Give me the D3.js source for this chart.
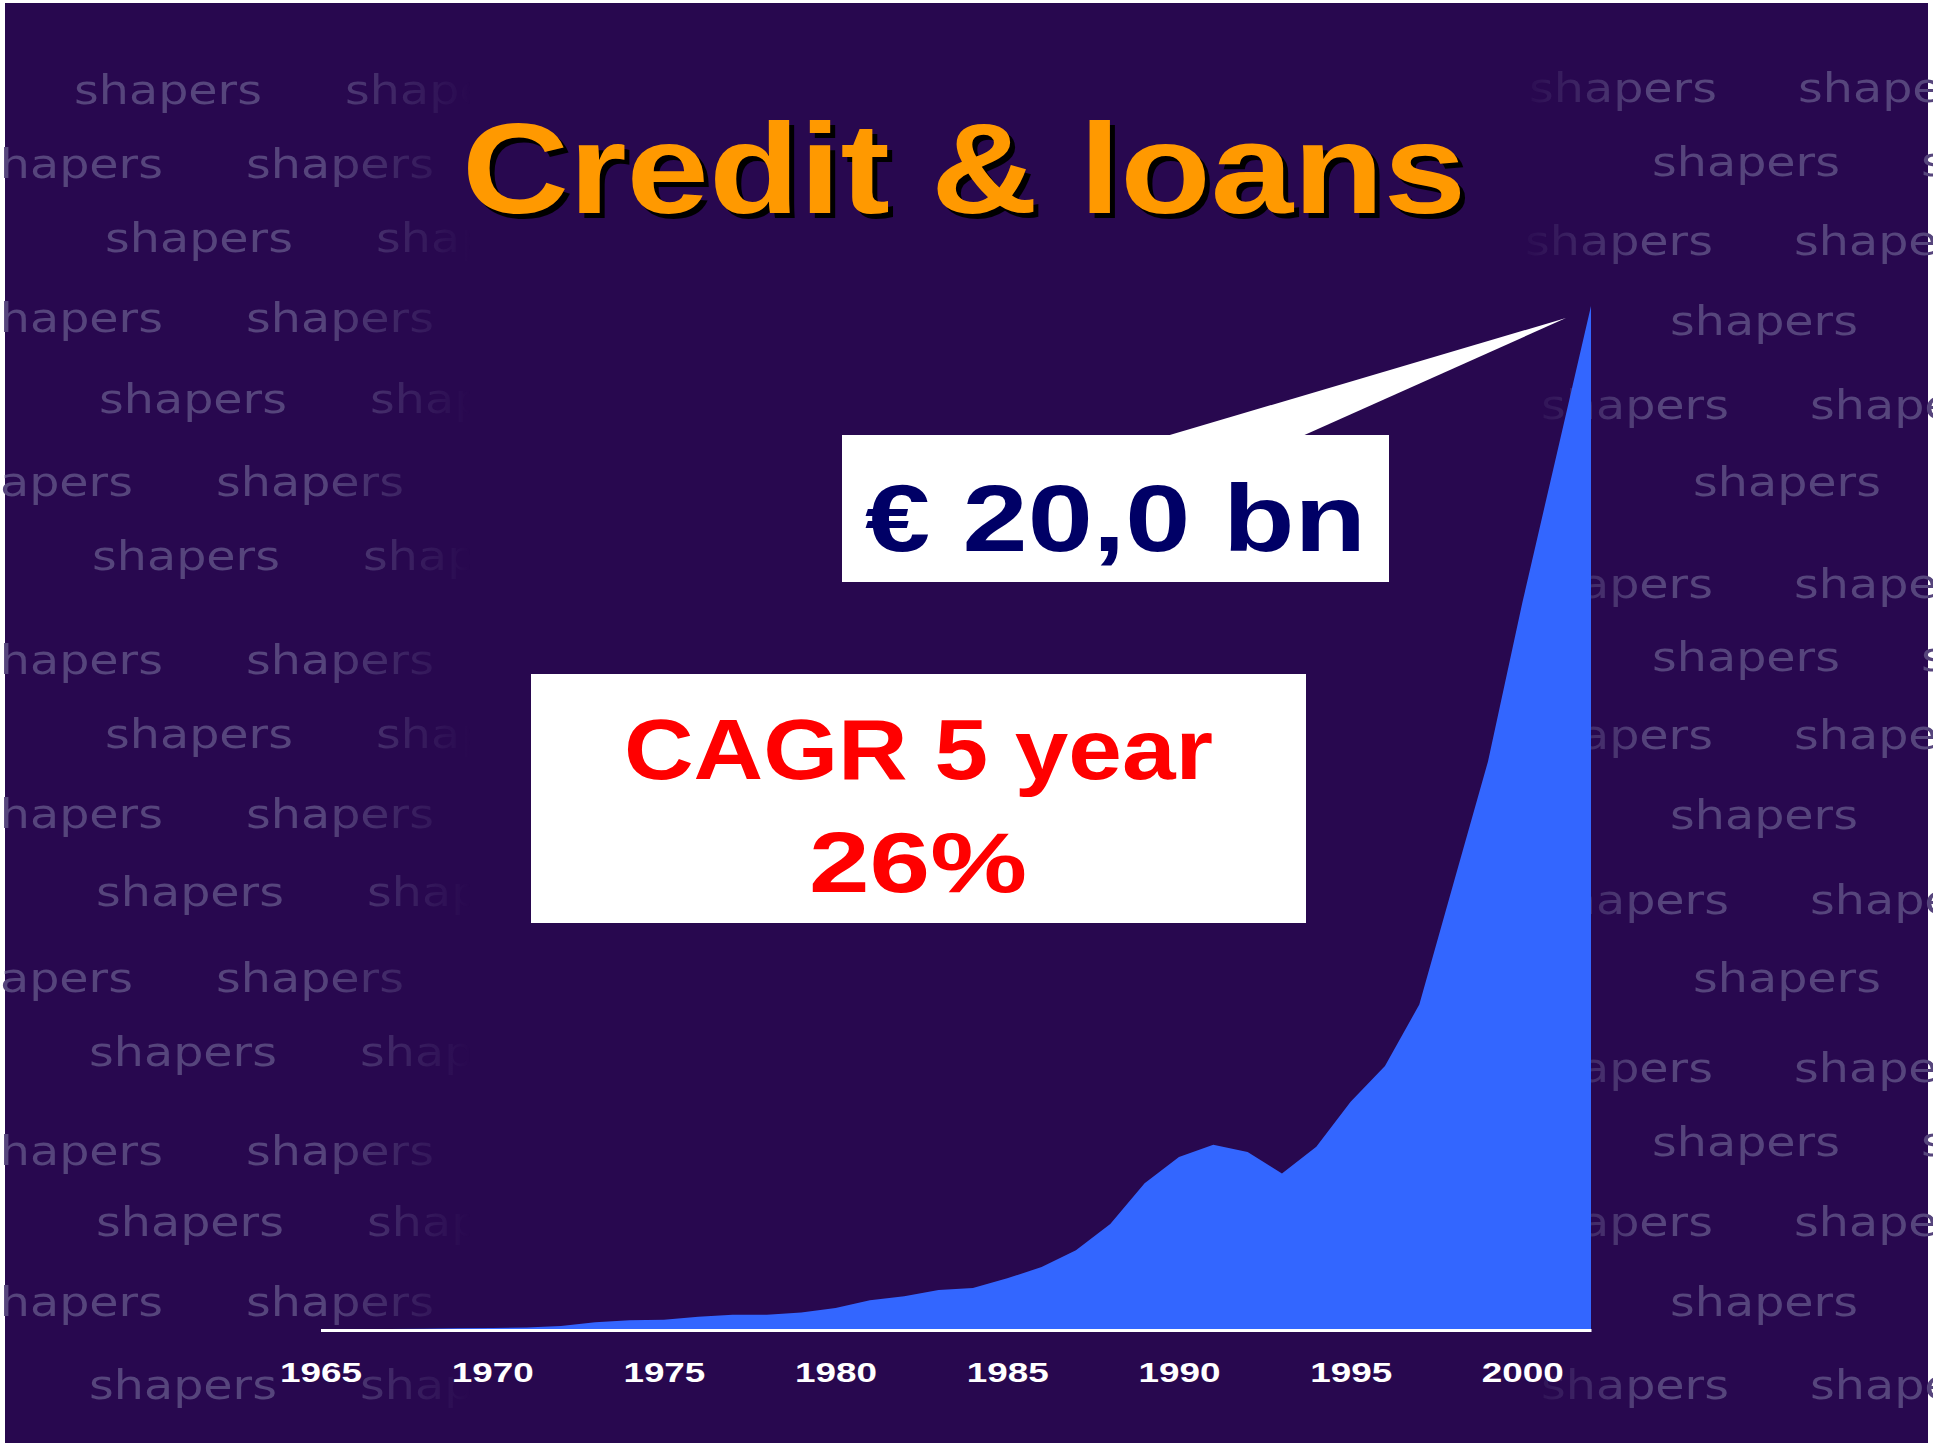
<!DOCTYPE html>
<html>
<head>
<meta charset="utf-8">
<script src="https://cdn.jsdelivr.net/npm/d3@7"></script>
<style>
  html, body { margin: 0; padding: 0; background: #fff; }
  svg { display: block; }
</style>
</head>
<body>
<script>
// chart data: credit & loans outstanding, € bn per year
var years = [1965, 1966, 1967, 1968, 1969, 1970, 1971, 1972, 1973, 1974,
             1975, 1976, 1977, 1978, 1979, 1980, 1981, 1982, 1983, 1984,
             1985, 1986, 1987, 1988, 1989, 1990, 1991, 1992, 1993, 1994,
             1995, 1996, 1997, 1998, 1999, 2000, 2001, 2002];
var credit = [0, 0.005, 0.01, 0.015, 0.025, 0.03, 0.04, 0.07, 0.14, 0.18,
              0.19, 0.25, 0.29, 0.29, 0.33, 0.42, 0.57, 0.65, 0.77, 0.81,
              1.0, 1.22, 1.55, 2.06, 2.86, 3.37, 3.61, 3.47, 3.05, 3.57,
              4.45, 5.15, 6.35, 8.73, 11.1, 14.2, 17.1, 20.0];
var tickYears = [1965, 1970, 1975, 1980, 1985, 1990, 1995, 2000];

// texts
var titleText = 'Credit & loans';
var totalLabel = '€ 20,0 bn';
var cagrLines = ['CAGR 5 year', '26%'];

// background watermark rows [baseline, x start] (decoration only)
var wmLeft = [[104, 74], [178, -25], [252, 105], [332, -25], [413, 99], [496, -55],
              [570, 92], [674, -25], [748, 105], [828, -25], [906, 96], [992, -55],
              [1066, 89], [1165, -25], [1236, 96], [1316, -25], [1399, 89]];
var wmRight = [[102, 1529], [176, 1652], [255, 1525], [335, 1670], [419, 1541], [496, 1693],
               [598, 1525], [671, 1652], [749, 1525], [829, 1670], [914, 1541], [992, 1693],
               [1082, 1525], [1156, 1652], [1236, 1525], [1316, 1670], [1399, 1541]];

var width = 1933, height = 1446;
var bg = '#28084f';

var svg = d3.select('body').append('svg')
  .attr('width', width)
  .attr('height', height);

var defs = svg.append('defs');

// mask so that the watermark fades out towards the middle of the slide
var grad = defs.append('linearGradient')
  .attr('id', 'wmfade')
  .attr('gradientUnits', 'userSpaceOnUse')
  .attr('x1', 0).attr('x2', width).attr('y1', 0).attr('y2', 0);
[[0, '#fff'], [320, '#fff'], [470, '#000'], [1515, '#000'], [1650, '#fff'], [width, '#fff']]
  .forEach(function(s) {
    grad.append('stop').attr('offset', s[0] / width).attr('stop-color', s[1]);
  });
defs.append('mask').attr('id', 'wmmask')
  .append('rect')
  .attr('width', width).attr('height', height)
  .attr('fill', 'url(#wmfade)');

defs.append('filter').attr('id', 'soft')
  .append('feGaussianBlur').attr('stdDeviation', 0.6);

// slide background
svg.append('rect')
  .attr('x', 5).attr('y', 3)
  .attr('width', 1923).attr('height', 1440)
  .attr('fill', bg);

// watermark
var wm = svg.append('g')
  .attr('mask', 'url(#wmmask)')
  .attr('filter', 'url(#soft)')
  .attr('fill', '#56447c')
  .style('font-family', '"DejaVu Sans", sans-serif')
  .style('font-size', '40px');

function addMarks(rows, step) {
  rows.forEach(function(r) {
    [0, 1].forEach(function(k) {
      wm.append('text')
        .attr('x', r[1] + k * step)
        .attr('y', r[0])
        .attr('textLength', 188)
        .attr('lengthAdjust', 'spacingAndGlyphs')
        .text('shapers');
    });
  });
}
addMarks(wmLeft, 271);
addMarks(wmRight, 269);

// scales
var x = d3.scaleLinear()
  .domain([1965, 2002])
  .range([320.5, 1591]);
var y = d3.scaleLinear()
  .domain([0, 20])
  .range([1329.5, 306]);

// area
var area = d3.area()
  .x(function(d) { return x(d[0]); })
  .y0(y(0))
  .y1(function(d) { return y(d[1]); });

svg.append('path')
  .datum(d3.zip(years, credit))
  .attr('d', area)
  .attr('fill', '#3366ff');

// x axis
var axis = d3.axisBottom(x)
  .tickValues(tickYears)
  .tickFormat(d3.format('d'))
  .tickSize(0)
  .tickSizeOuter(0);

var gx = svg.append('g')
  .attr('transform', 'translate(0,1330)')
  .call(axis);

gx.select('.domain')
  .attr('stroke', '#fff')
  .attr('stroke-width', 3);

gx.selectAll('.tick text')
  .attr('y', 52)
  .attr('dy', 0)
  .attr('fill', '#fff')
  .attr('textLength', 82)
  .attr('lengthAdjust', 'spacingAndGlyphs')
  .style('font-family', '"Liberation Sans", Arial, sans-serif')
  .style('font-weight', 'bold')
  .style('font-size', '28px');

// title with drop shadow
var title = svg.append('g')
  .style('font-family', '"Liberation Sans", Arial, sans-serif')
  .style('font-weight', 'bold')
  .style('font-size', '128px');

[[5, '#000'], [0, '#ff9900']].forEach(function(t) {
  title.append('text')
    .attr('x', 462 + t[0])
    .attr('y', 213 + t[0])
    .attr('textLength', 1004)
    .attr('lengthAdjust', 'spacingAndGlyphs')
    .attr('fill', t[1])
    .text(titleText);
});

// callout: total
var peak = [x(years[years.length - 1]) - 25, y(credit[credit.length - 1]) + 12];
svg.append('path')
  .attr('d', 'M1163,437L' + peak[0] + ',' + peak[1] + 'L1300,437Z')
  .attr('fill', '#fff');

svg.append('rect')
  .attr('x', 842).attr('y', 435)
  .attr('width', 547).attr('height', 147)
  .attr('fill', '#fff');

svg.append('text')
  .attr('x', 865)
  .attr('y', 551)
  .attr('textLength', 501)
  .attr('lengthAdjust', 'spacingAndGlyphs')
  .attr('fill', '#000066')
  .style('font-family', '"Liberation Sans", Arial, sans-serif')
  .style('font-weight', 'bold')
  .style('font-size', '95px')
  .text(totalLabel);

// callout: growth rate
svg.append('rect')
  .attr('x', 531).attr('y', 674)
  .attr('width', 775).attr('height', 249)
  .attr('fill', '#fff');

var cagr = svg.append('g')
  .attr('fill', '#ff0000')
  .attr('text-anchor', 'middle')
  .style('font-family', '"Liberation Sans", Arial, sans-serif')
  .style('font-weight', 'bold')
  .style('font-size', '85px');

cagr.append('text')
  .attr('x', 918.5).attr('y', 779)
  .attr('textLength', 589)
  .attr('lengthAdjust', 'spacingAndGlyphs')
  .text(cagrLines[0]);

cagr.append('text')
  .attr('x', 918).attr('y', 892)
  .attr('textLength', 218)
  .attr('lengthAdjust', 'spacingAndGlyphs')
  .text(cagrLines[1]);
</script>
</body>
</html>
